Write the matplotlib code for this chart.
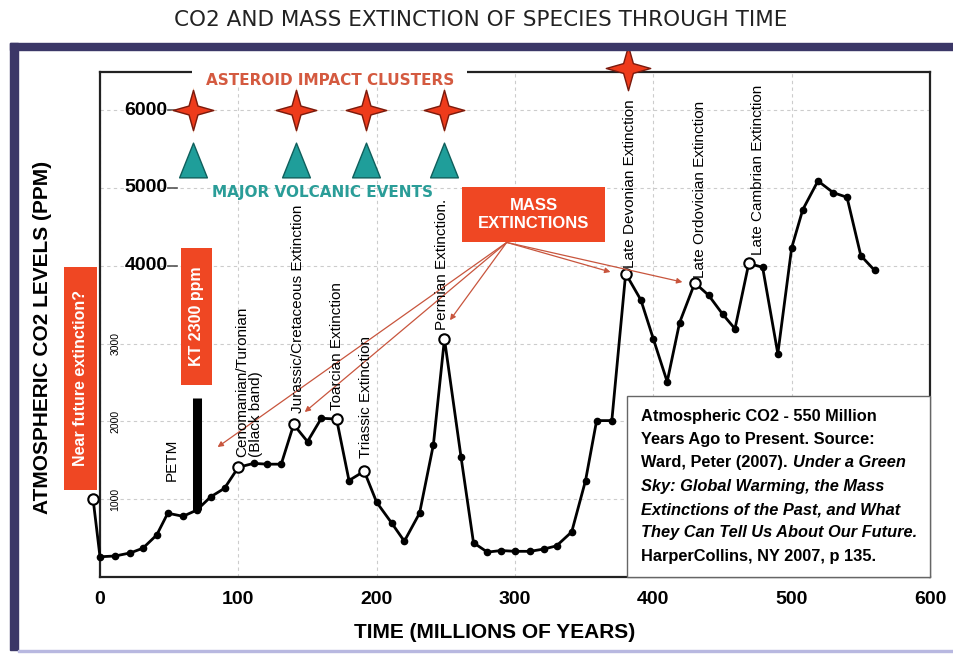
import numpy as np
import matplotlib
matplotlib.use("Agg")
import matplotlib.pyplot as plt
from matplotlib.path import Path
from matplotlib.patches import Rectangle
from matplotlib.offsetbox import TextArea, HPacker, VPacker, AnnotationBbox

# CO2 curve (time in Myr ago, CO2 in ppm)
time_myr = [-5, 0, 11, 22, 31, 41, 49, 60, 70, 80, 90, 100, 111, 121, 131, 140, 150,
            160, 171, 180, 191, 200, 211, 220, 231, 241, 249, 261, 270, 280, 290, 300,
            311, 321, 330, 341, 351, 359, 370, 380, 391, 400, 410, 419, 430, 440, 450,
            459, 469, 479, 490, 500, 508, 519, 530, 540, 550, 560]
co2_ppm = [1000, 260, 270, 310, 370, 540, 820, 780, 860, 1030, 1140, 1410, 1460, 1450,
           1450, 1960, 1740, 2040, 2030, 1240, 1360, 960, 690, 460, 820, 1700, 3060, 1540,
           440, 320, 340, 330, 330, 360, 400, 580, 1240, 2010, 2010, 3900, 3560, 3060,
           2510, 3270, 3780, 3620, 3380, 3190, 4030, 3980, 2870, 4230, 4720, 5090, 4940,
           4880, 4130, 3940]

# open-circle points (named extinctions and "near future")
open_x = [-5, 100, 140, 171, 191, 249, 380, 430, 469]
open_y = [1000, 1410, 1960, 2030, 1360, 3060, 3900, 3780, 4030]

ext_labels = ["Cenomanian/Turonian\n(Black band)", "Jurassic/Cretaceous Extinction",
              "Toarcian Extinction", "Triassic Extinction", "Permian Extinction.",
              "Late Devonian Extinction", "Late Ordovician Extinction",
              "Late Cambrian Extinction"]
ext_x = [108, 143, 171, 192, 247, 383, 434, 476]
ext_y = [1540, 2110, 2150, 1530, 3175, 3970, 3840, 4140]

# arrow targets from the MASS EXTINCTIONS box
arrow_x = [85, 148, 253, 369, 421]
arrow_y = [1670, 2120, 3300, 3920, 3790]

impact_x = [67, 142, 192, 249]
big_impact = (382, 6540)

kt_x, kt_low, kt_high = 70, 860, 2300

big_yticks = [4000, 5000, 6000]
small_yticks = [1000, 2000, 3000]
xticks = [0, 100, 200, 300, 400, 500, 600]

RED = '#ef4723'
NAVY = '#3b3767'
TEAL = '#1f9e9a'

fig = plt.figure(figsize=(9.54, 6.54), dpi=100)
W, H = 954, 654

# outer frame
fig.patches.append(Rectangle((10 / W, 1 - 650 / H), 8 / W, 607 / H, transform=fig.transFigure,
                             color=NAVY, zorder=0))
fig.patches.append(Rectangle((10 / W, 1 - 50 / H), 944 / W, 7 / H, transform=fig.transFigure,
                             color=NAVY, zorder=0))
fig.patches.append(Rectangle((18 / W, 1 - 652 / H), 936 / W, 2 / H, transform=fig.transFigure,
                             color='#b8b8e0', zorder=0))
fig.text(481 / W, 1 - 20 / H, "CO2 AND MASS EXTINCTION OF SPECIES THROUGH TIME",
         ha='center', va='center', fontsize=15.5, color='#222222', family='DejaVu Sans')

ax = fig.add_axes([100 / W, 77 / H, 830 / W, 505 / H])
ax.set_xlim(0, 600)
ax.set_ylim(0, 6490)
for s in ax.spines.values():
    s.set_linewidth(1.6)
    s.set_color('#222222')

ax.grid(True, color='#cccccc', linestyle=(0, (3, 3)), linewidth=0.8)
ax.set_axisbelow(True)
ax.set_xticks(xticks)
ax.set_xticklabels([str(v) for v in xticks], fontsize=14, fontweight='bold',
                   family='Liberation Sans')
ax.tick_params(axis='x', length=0, pad=10)
ax.set_yticks(small_yticks + big_yticks)
ax.set_yticklabels([])
ax.tick_params(axis='y', length=0)

for v in big_yticks:
    ax.text(49, v, str(v), ha='right', va='center', fontsize=14, fontweight='bold',
            family='Liberation Sans')
    ax.plot([49, 56], [v, v], color='#555555', lw=1.2)
for v in small_yticks:
    ax.text(11, v, str(v), ha='center', va='center', rotation=90, fontsize=7.5,
            family='Liberation Sans')

fig.text(495 / W, 1 - 633 / H, "TIME (MILLIONS OF YEARS)", ha='center', va='center',
         fontsize=15, fontweight='bold', family='Liberation Sans')
fig.text(43 / W, 1 - 337 / H, "ATMOSPHERIC CO2 LEVELS (PPM)", rotation=90, ha='center',
         va='center', fontsize=15, fontweight='bold', family='Liberation Sans')

# main curve
ax.plot(time_myr, co2_ppm, color='black', lw=2, marker='o', markersize=4.5,
        clip_on=False, zorder=4)
ax.plot(open_x, open_y, linestyle='none', marker='o', markersize=7.5,
        markerfacecolor='white', markeredgecolor='black', markeredgewidth=1.5,
        clip_on=False, zorder=5)

# KT bar
ax.plot([kt_x, kt_x], [kt_low, kt_high], color='black', lw=6.5, solid_capstyle='butt', zorder=4)

# extinction labels
for lab, x, y in zip(ext_labels, ext_x, ext_y):
    ax.text(x, y, lab, rotation=90, ha='center', va='bottom', multialignment='left',
            fontsize=11, family='Liberation Sans', zorder=6, linespacing=1.0)
ax.text(52, 1500, "PETM", rotation=90, ha='center', va='center', fontsize=11,
        family='Liberation Sans', zorder=6)

# red label boxes
def red_box(x0, x1, y0, y1, text, rot, fs):
    ax.add_patch(Rectangle((x0, y0), x1 - x0, y1 - y0, facecolor=RED, edgecolor='none',
                           clip_on=False, zorder=6))
    ax.text((x0 + x1) / 2, (y0 + y1) / 2, text, rotation=rot, ha='center', va='center',
            color='white', fontsize=fs, fontweight='bold', family='Liberation Sans',
            zorder=7, clip_on=False, linespacing=1.3)

red_box(-26, -2.2, 1118, 3985, "Near future extinction?", 90, 11.5)
red_box(58.6, 81, 2468, 4229, "KT 2300 ppm", 90, 11.5)
red_box(261.8, 365.1, 4306, 5013, "MASS\nEXTINCTIONS", 0, 12)

for tx, ty in zip(arrow_x, arrow_y):
    ax.annotate("", xy=(tx, ty), xytext=(294, 4300),
                arrowprops=dict(arrowstyle='-|>', color='#c8553d', lw=0.9,
                                mutation_scale=8, shrinkA=0, shrinkB=0),
                zorder=5)

# impact stars and volcanic triangles
w = 0.22
star = Path([(0, 1), (w, w), (1, 0), (w, -w), (0, -1), (-w, -w), (-1, 0), (-w, w), (0, 1)],
            [Path.MOVETO] + [Path.LINETO] * 7 + [Path.CLOSEPOLY])
tri = Path([(0, 1), (0.8, -1), (-0.8, -1), (0, 1)],
           [Path.MOVETO, Path.LINETO, Path.LINETO, Path.CLOSEPOLY])
ax.plot(impact_x, [6000] * len(impact_x), linestyle='none', marker=star, markersize=33,
        markerfacecolor='#f5a070', markeredgecolor='none', alpha=0.5, zorder=6)
ax.plot(impact_x, [6000] * len(impact_x), linestyle='none', marker=star, markersize=29,
        markerfacecolor='#ee3b1b', markeredgecolor='#7a1a0e', markeredgewidth=1, zorder=6)
ax.plot(impact_x, [5360] * len(impact_x), linestyle='none', marker=tri, markersize=25,
        markerfacecolor=TEAL, markeredgecolor='#0f5f5c', markeredgewidth=1, zorder=6)
ax.plot([big_impact[0]], [big_impact[1]], linestyle='none', marker=star, markersize=32,
        markerfacecolor='#ee3b1b', markeredgecolor='#7a1a0e', markeredgewidth=1,
        clip_on=False, zorder=8)

ax.add_patch(Rectangle((66.5, 6300), 198.9, 400, facecolor='white', edgecolor='none',
                       clip_on=False, zorder=5))
ax.text(166, 6386, "ASTEROID IMPACT CLUSTERS", ha='center', va='center', fontsize=11,
        fontweight='bold', color='#d45a40', family='DejaVu Sans', zorder=7, clip_on=False)
ax.text(161, 4935, "MAJOR VOLCANIC EVENTS", ha='center', va='center', fontsize=11,
        fontweight='bold', color='#2a9d98', family='DejaVu Sans', zorder=7)

# source box
fs = 11.8
bold = dict(fontsize=fs, fontweight='bold', family='Liberation Sans')
ital = dict(fontsize=fs, fontweight='bold', style='italic', family='Liberation Sans')
lines = [
    [("Atmospheric CO2 - 550 Million", bold)],
    [("Years Ago to Present. Source:", bold)],
    [("Ward, Peter (2007).", bold), ("Under a Green", ital)],
    [("Sky: Global Warming, the Mass", ital)],
    [("Extinctions of the Past, and What", ital)],
    [("They Can Tell Us About Our Future.", ital)],
    [("HarperCollins, NY 2007, p 135.", bold)],
]
rows = []
for parts in lines:
    areas = [TextArea(t, textprops=p) for t, p in parts]
    rows.append(HPacker(children=areas, align='baseline', pad=0, sep=4))
pack = VPacker(children=rows, align='left', pad=9.5, sep=6)
ab = AnnotationBbox(pack, (1, 0), xycoords='axes fraction', box_alignment=(1, 0), pad=0,
                    frameon=True, bboxprops=dict(edgecolor='#666666', facecolor='white', lw=1))
ab.set_zorder(6)
ax.add_artist(ab)

fig.savefig("out.png", dpi=100)
